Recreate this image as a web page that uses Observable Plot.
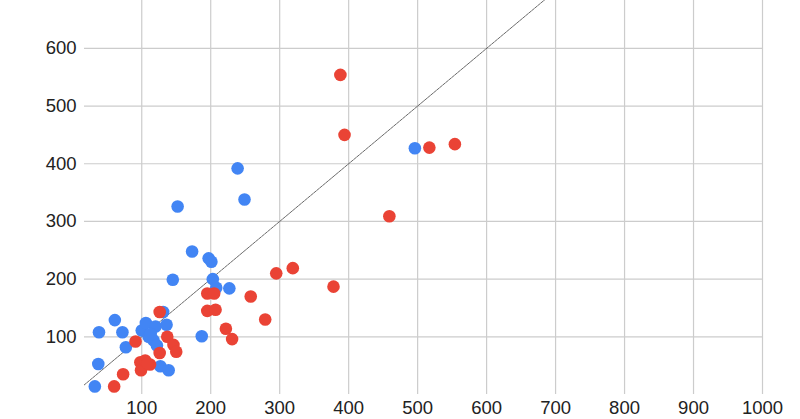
<!DOCTYPE html>
<html>
<head>
<meta charset="utf-8">
<script src="https://cdn.jsdelivr.net/npm/d3@7"></script>
<script src="https://cdn.jsdelivr.net/npm/@observablehq/plot@0.6"></script>
<style>
  html, body { margin: 0; padding: 0; background: #fff; }
  #chart svg { display: block; }
</style>
</head>
<body>
<div id="chart"></div>
<script>
// Series A (blue): x values and y values
const blueX = [32, 37, 38, 61, 72, 77, 100, 106, 110, 117, 120, 122, 127, 131, 136, 139, 145, 152, 173, 187, 197, 201, 203, 208, 227, 239, 249, 496, 113];
const blueY = [14, 53, 108, 129, 108, 82, 111, 124, 100, 94, 118, 85, 49, 143, 121, 42, 199, 326, 248, 101, 236, 230, 200, 185, 184, 392, 338, 427, 105];
// Series B (red)
const redX = [60, 73, 91, 98, 99, 105, 112, 126, 126, 137, 146, 150, 195, 205, 195, 207, 222, 231, 258, 279, 295, 319, 378, 388, 394, 459, 517, 554, 108];
const redY = [14, 35, 92, 56, 42, 59, 52, 143, 72, 100, 86, 74, 175, 175, 145, 147, 114, 96, 170, 130, 210, 219, 187, 554, 450, 309, 428, 434, 54];
// Reference line y = x
const refLine = [16, 700];
// Tick labels
const xTicks = [100, 200, 300, 400, 500, 600, 700, 800, 900, 1000];
const yTicks = [100, 200, 300, 400, 500, 600];

const blue = blueX.map((x, i) => ({x, y: blueY[i]}));
const red = redX.map((x, i) => ({x, y: redY[i]}));
const diag = refLine.map(v => ({x: v, y: v}));

const chart = Plot.plot({
  width: 800,
  height: 419,
  marginLeft: 84,
  marginRight: 38,
  marginTop: 0,
  marginBottom: 25,
  style: {fontFamily: "'Liberation Sans', Arial, Helvetica, sans-serif", fontSize: "18.5px", color: "#222", background: "#fff"},
  x: {domain: [17, 1000], label: null},
  y: {domain: [0, 683], label: null},
  marks: [
    Plot.ruleX(xTicks, {stroke: "#cccccc", strokeWidth: 1.2, strokeOpacity: 1}),
    Plot.ruleY(yTicks, {stroke: "#cccccc", strokeWidth: 1.2, strokeOpacity: 1}),
    Plot.line(diag, {x: "x", y: "y", stroke: "#444", strokeWidth: 0.8, strokeDasharray: "3,1", clip: true}),
    Plot.dot(blue, {x: "x", y: "y", r: 6.3, fill: "#4285F4", stroke: "none"}),
    Plot.dot(red, {x: "x", y: "y", r: 6.3, fill: "#EA4335", stroke: "none"}),
    Plot.axisX({ticks: xTicks, tickFormat: d => String(d), tickSize: 0, tickPadding: 6, fontSize: 18.5, label: null}),
    Plot.axisY({ticks: yTicks, tickFormat: d => String(d), tickSize: 0, tickPadding: 8, fontSize: 18.5, label: null})
  ]
});
document.getElementById("chart").appendChild(chart);
</script>
</body>
</html>
